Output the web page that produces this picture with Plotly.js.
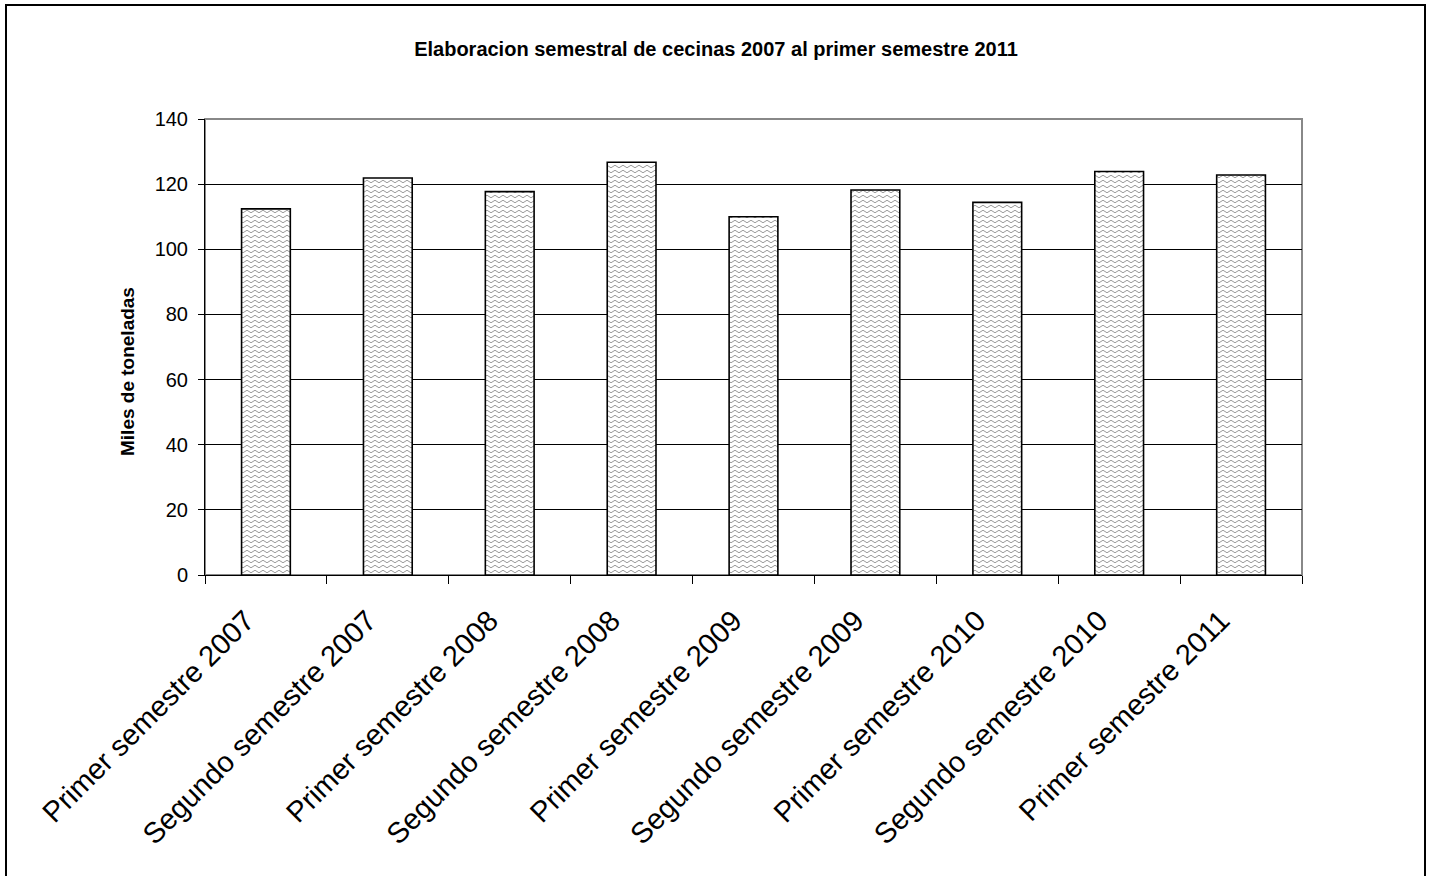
<!DOCTYPE html>
<html>
<head>
<meta charset="utf-8">
<script src="https://cdn.plot.ly/plotly-3.0.1.min.js"></script>
<style>
html,body{margin:0;padding:0;background:#fff;}
#chart{width:1432px;height:876px;}
</style>
</head>
<body>
<div id="chart"></div>
<script>
const categories = [
  "Primer semestre 2007",
  "Segundo semestre 2007",
  "Primer semestre 2008",
  "Segundo semestre 2008",
  "Primer semestre 2009",
  "Segundo semestre 2009",
  "Primer semestre 2010",
  "Segundo semestre 2010",
  "Primer semestre 2011"
];
const values = [112.4, 121.9, 117.7, 126.7, 110.0, 118.2, 114.4, 123.9, 122.8];
const yTicks = [0, 20, 40, 60, 80, 100, 120, 140];

const W = 1432, H = 876;
const m = {l: 205, r: 130, t: 119, b: 301};
const pw = W - m.l - m.r, ph = H - m.t - m.b;
function px(x){ return (x - m.l) / pw; }
function py(y){ return (H - m.b - y) / ph; }

const trace = {
  type: 'bar',
  x: categories,
  y: values,
  marker: {color: '#e8e8e8', line: {color: '#000', width: 1.6}},
  hoverinfo: 'x+y'
};

const layout = {
  width: W, height: H,
  margin: m,
  paper_bgcolor: '#fff',
  plot_bgcolor: '#fff',
  showlegend: false,
  bargap: 0.6,
  font: {family: 'Arial, "Liberation Sans", sans-serif', color: '#000'},
  title: {
    text: '<b>Elaboracion semestral de cecinas 2007 al primer semestre 2011</b>',
    font: {size: 20, color: '#000'},
    x: 0.5, xanchor: 'center', y: 1 - 49/H, yanchor: 'middle'
  },
  xaxis: {
    type: 'category',
    tickangle: -45,
    tickfont: {size: 29, color: '#000'},
    ticks: 'outside', ticklen: 8, tickcolor: '#000', tickwidth: 1,
    tickson: 'boundaries',
    ticklabelstandoff: 16,
    ticklabelshift: -20,
    showgrid: false,
    showline: true, linecolor: '#000', linewidth: 1,
    zeroline: false
  },
  yaxis: {
    range: [0, 140],
    tickvals: yTicks,
    tickfont: {size: 20, color: '#000'},
    ticks: 'outside', ticklen: 6, tickcolor: '#000',
    ticklabelstandoff: 6,
    showgrid: true, gridcolor: '#000', gridwidth: 1,
    showline: true, linecolor: '#000', linewidth: 1,
    zeroline: false
  },
  annotations: [
    {text: '<b>Miles de toneladas</b>', xref: 'paper', yref: 'paper',
     x: px(127), y: py(372), xanchor: 'center', yanchor: 'middle',
     textangle: -90, showarrow: false, font: {size: 19, color: '#000'}}
  ],
  shapes: [
    {type: 'rect', xref: 'paper', yref: 'paper', x0: 0, x1: 1, y0: 0, y1: 1,
     line: {color: '#888', width: 2}, layer: 'below'},
    {type: 'rect', xref: 'paper', yref: 'paper', x0: px(6), x1: px(1425), y0: py(880), y1: py(5),
     line: {color: '#000', width: 2}, layer: 'above'}
  ]
};

Plotly.newPlot('chart', [trace], layout, {displayModeBar: false}).then(function(gd){
  const svg = gd.querySelector('svg.main-svg');
  let defs = svg.querySelector('defs');
  const NS = 'http://www.w3.org/2000/svg';
  const pat = document.createElementNS(NS, 'pattern');
  pat.setAttribute('id', 'wavefill');
  pat.setAttribute('patternUnits', 'userSpaceOnUse');
  pat.setAttribute('width', '8');
  pat.setAttribute('height', '5');
  const bg = document.createElementNS(NS, 'rect');
  bg.setAttribute('width', '8'); bg.setAttribute('height', '5'); bg.setAttribute('fill', '#fff');
  pat.appendChild(bg);
  const p = document.createElementNS(NS, 'path');
  p.setAttribute('d', 'M0 2.5 Q2 0 4 2.5 T8 2.5');
  p.setAttribute('stroke', '#9a9a9a');
  p.setAttribute('stroke-width', '1');
  p.setAttribute('fill', 'none');
  pat.appendChild(p);
  defs.appendChild(pat);
  gd.querySelectorAll('.trace.bars .point path').forEach(function(el){
    el.style.fill = 'url(#wavefill)';
    el.style.fillOpacity = 1;
  });
});
</script>
</body>
</html>
